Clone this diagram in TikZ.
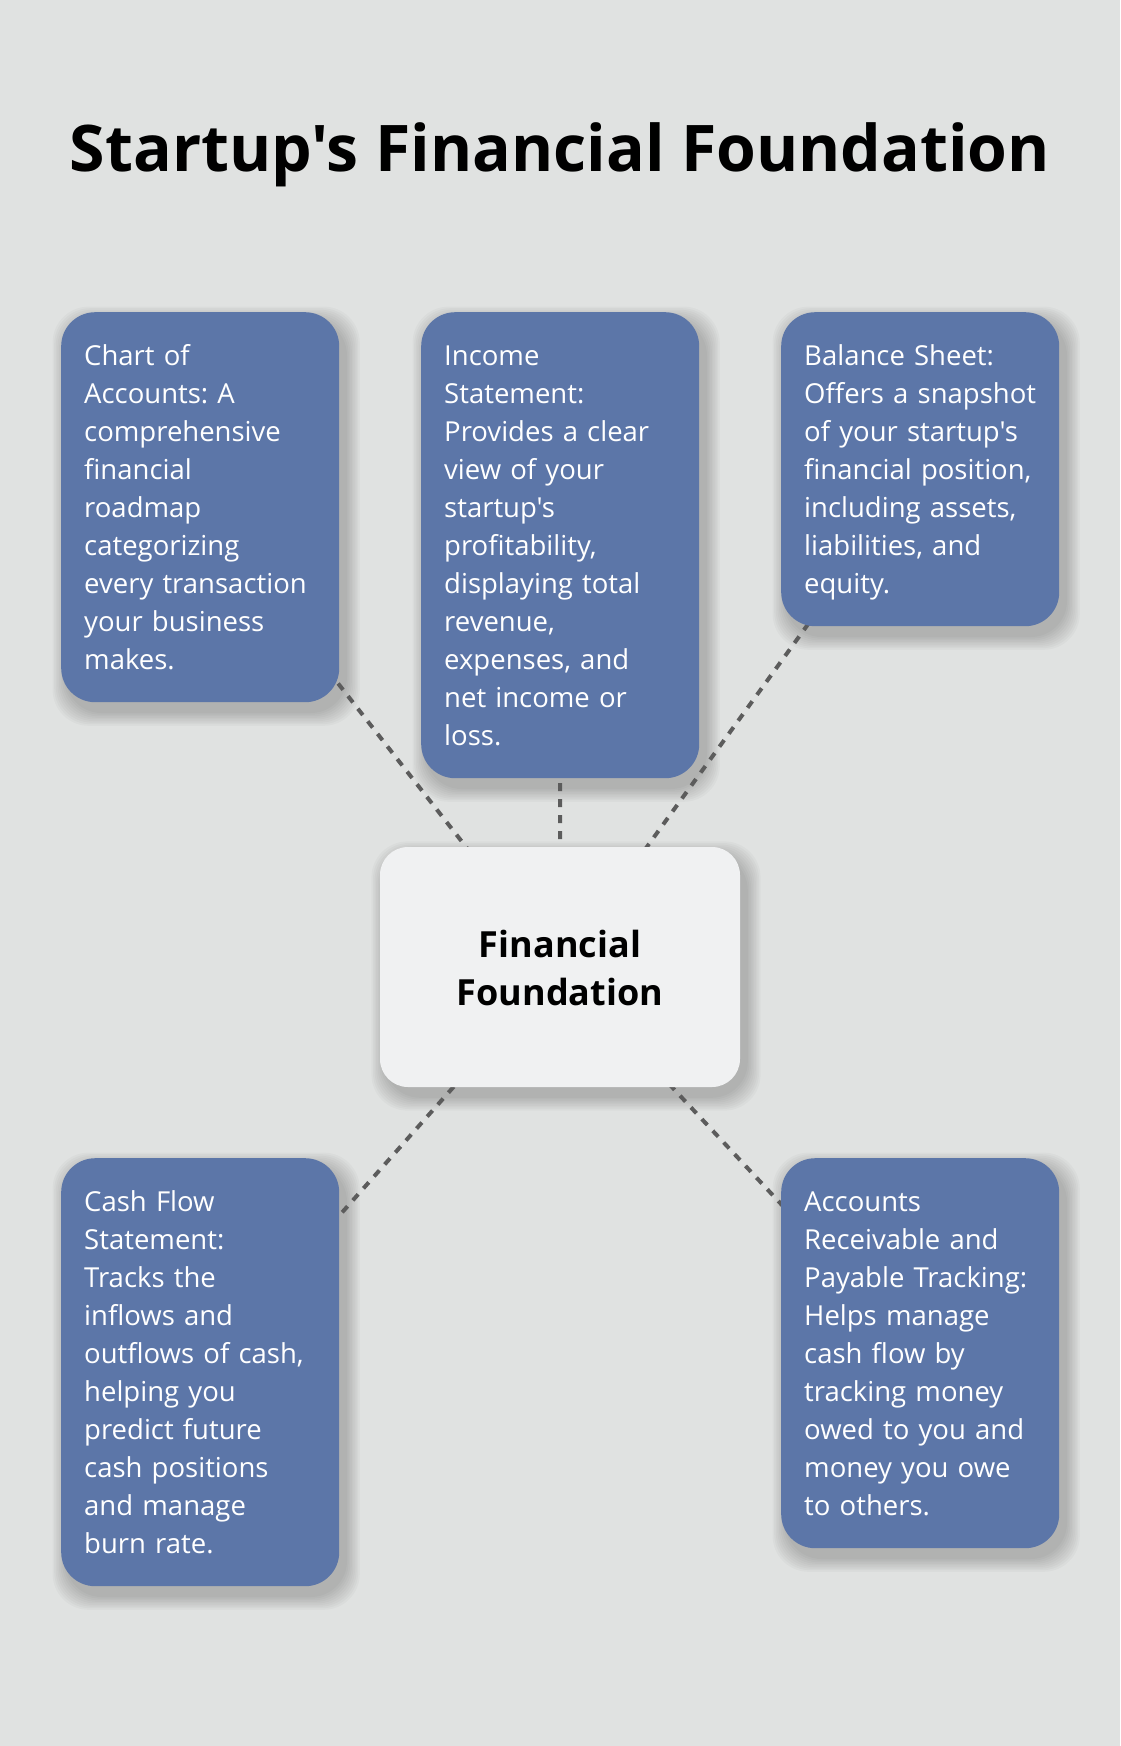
\documentclass[tikz,border=0pt]{standalone}
\usepackage{fontspec}
\setmainfont{Open Sans}[Ligatures=TeXOff]
\usepackage{tikz}
\definecolor{pagebg}{HTML}{E0E2E1}
\definecolor{cardblue}{HTML}{5C76A8}
\definecolor{hubfill}{HTML}{F0F1F2}
\definecolor{linkgray}{HTML}{5C5C5C}
\pgfdeclarelayer{back}
\pgfdeclarelayer{shades}
\pgfdeclarelayer{links}
\pgfsetlayers{back,shades,links,main}
\newcommand{\cs}{\rule[-8.5pt]{0pt}{38pt}}
\newcommand{\hs}{\rule[-10pt]{0pt}{48pt}}
\frenchspacing
\hyphenpenalty=10000

\begin{document}
\begin{tikzpicture}[x=1pt, y=1pt,
	card/.style={fill=cardblue, text=white, rounded corners=34pt, inner xsep=23pt, inner ysep=24pt,
		text width=232pt, align=left, font=\fontsize{27.5}{38}\selectfont},
	hub/.style={fill=hubfill, rounded corners=28pt, minimum width=360pt, minimum height=240pt,
		align=center, font=\bfseries\fontsize{36}{48}\selectfont},
	link/.style={linkgray, line width=4pt, dash pattern=on 8pt off 8pt},
	shade/.style={black, opacity=0.024, rounded corners=36pt}]
	% page
	\begin{pgfonlayer}{back}
		\fill[pagebg] (0,0) rectangle (1120,-1746);
	\end{pgfonlayer}
	% title
	\node[anchor=base, font=\bfseries\fontsize{64.3}{77}\selectfont] (title) at (560,-171) {Startup's Financial Foundation};
	% hub
	\node[hub] (found) at (560,-967) {\hs Financial\\Foundation\hs};
	% top cards
	\node[card, anchor=north west] (chart) at (61,-312)
	{\cs Chart of\\Accounts: A\\comprehensive\\financial\\roadmap\\categorizing\\every transaction\\your business\\makes.\cs};
	\node[card, anchor=north west] (income) at (421,-312)
	{\cs Income\\Statement:\\Provides a clear\\view of your\\startup's\\profitability,\\displaying total\\revenue,\\expenses, and\\net income or\\loss.\cs};
	\node[card, anchor=north west] (balance) at (781,-312)
	{\cs Balance Sheet:\\Offers a snapshot\\of your startup's\\financial position,\\including assets,\\liabilities, and\\equity.\cs};
	% bottom cards
	\node[card, anchor=north west] (cashflow) at (61,-1158)
	{\cs Cash Flow\\Statement:\\Tracks the\\inflows and\\outflows of cash,\\helping you\\predict future\\cash positions\\and manage\\burn rate.\cs};
	\node[card, anchor=north west] (payable) at (781,-1158)
	{\cs Accounts\\Receivable and\\Payable Tracking:\\Helps manage\\cash flow by\\tracking money\\owed to you and\\money you owe\\to others.\cs};
	% soft shadows
	\begin{pgfonlayer}{shades}
		\foreach \c in {chart,income,balance,cashflow,payable,found}
		\foreach \r in {1,...,9}
		\fill[shade] ([xshift={(6-1.6*\r)*1pt}, yshift={(-9+1.6*\r)*1pt}]\c.north west)
			rectangle ([xshift={(6+1.6*\r)*1pt}, yshift={(-9-1.6*\r)*1pt}]\c.south east);
	\end{pgfonlayer}
	% links
	\begin{pgfonlayer}{links}
		\foreach \c in {chart,income,balance,cashflow,payable}
		\draw[link] (found.center) -- (\c.center);
	\end{pgfonlayer}
\end{tikzpicture}
\end{document}
